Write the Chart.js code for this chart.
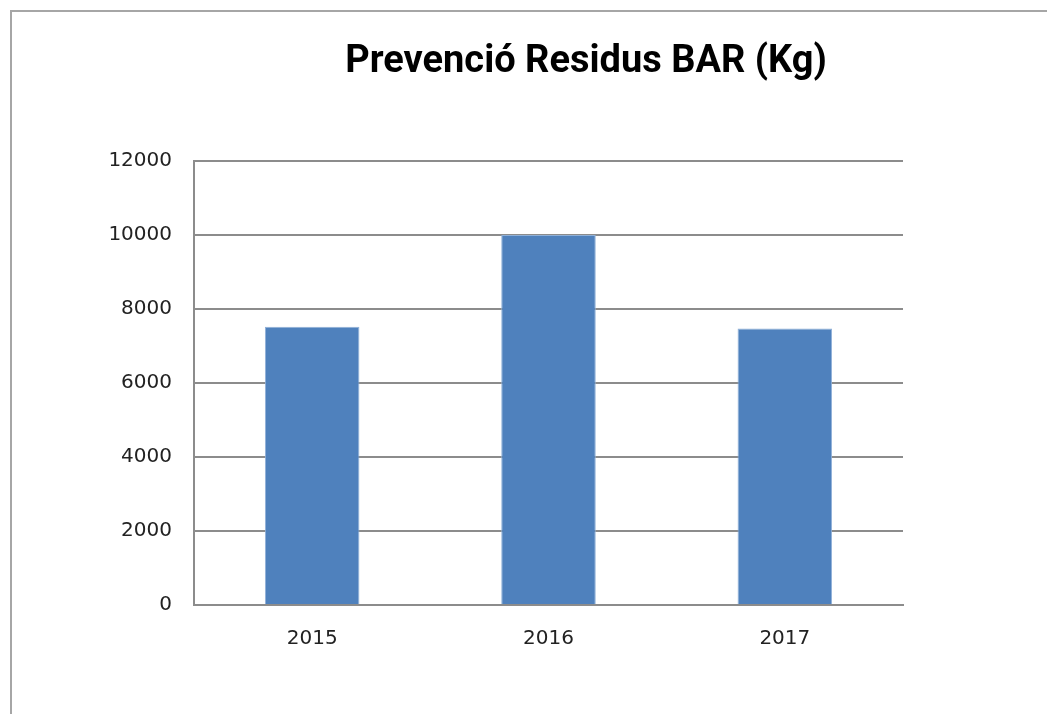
<!DOCTYPE html>
<html>
<head>
<meta charset="utf-8">
<script src="https://cdn.jsdelivr.net/npm/chart.js@4"></script>
<style>
  body { margin: 0; background: #fff; }
  .wrap { position: relative; width: 1047px; height: 714px; }
  .frame { position: absolute; left: 10px; top: 10px; right: -2px; bottom: -2px;
           border-left: 2px solid #a6a6a6; border-top: 2px solid #a6a6a6; }
</style>
</head>
<body>
<div class="wrap">
  <div class="frame"></div>
  <canvas class="chart-js" width="1047" height="714"></canvas>
</div>
<script>
const ctx = document.querySelector('.chart-js').getContext('2d');

const TITLE = 'Prevenció Residus BAR (Kg)';
const years = ['2015', '2016', '2017'];
const residus = [7520, 10000, 7470];
const yTicks = [0, 2000, 4000, 6000, 8000, 10000, 12000];

// title sits right of centre in the original, so draw it ourselves
const titlePlugin = {
    id: 'offsetTitle',
    afterDraw(chart) {
        const c = chart.ctx;
        c.save();
        c.font = 'bold 38px Roboto, sans-serif';
        c.fillStyle = '#000';
        c.textAlign = 'center';
        c.textBaseline = 'alphabetic';
        c.fillText(TITLE, 586, 72);
        c.restore();
    }
};

new Chart(ctx, {
    type: 'bar',
    data: {
        labels: years,
        datasets: [{
            label: TITLE,
            data: residus,
            backgroundColor: '#4f81bd',
            borderColor: '#8fb0d8',
            borderWidth: 1,
            barPercentage: 0.4,
            categoryPercentage: 1,
        }]
    },
    options: {
        responsive: false,
        animation: false,
        layout: { padding: { top: 161, left: 0, right: 144, bottom: 41 } },
        plugins: {
            legend: { display: false },
            tooltip: { enabled: false },
        },
        scales: {
            x: {
                grid: { display: false, drawTicks: false },
                border: { color: '#8c8c8c', width: 2 },
                ticks: {
                    color: '#222',
                    padding: 22,
                    font: { family: 'DejaVu Sans', size: 20 }
                }
            },
            y: {
                min: 0,
                max: 12000,
                afterBuildTicks(axis) {
                    axis.ticks = yTicks.map(v => ({ value: v }));
                },
                afterFit(axis) {
                    axis.width = 194;
                },
                grid: { color: '#8c8c8c', lineWidth: 2, drawTicks: false },
                border: { color: '#8c8c8c', width: 2 },
                ticks: {
                    color: '#222',
                    padding: 22,
                    font: { family: 'DejaVu Sans', size: 20 },
                    callback: v => String(v)
                }
            }
        }
    },
    plugins: [titlePlugin]
});
</script>
</body>
</html>
